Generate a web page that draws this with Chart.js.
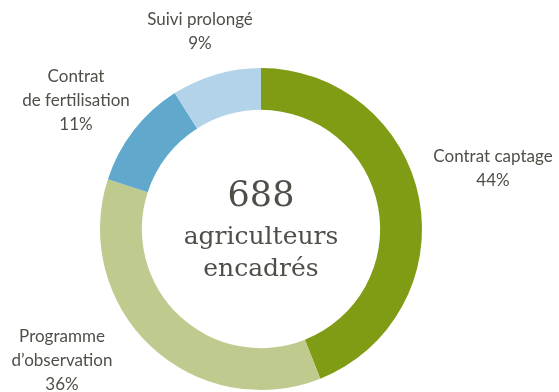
<!DOCTYPE html>
<html>
<head>
<meta charset="utf-8">
<script src="https://cdn.jsdelivr.net/npm/chart.js"></script>
<style>
  html, body { margin: 0; padding: 0; background: #fff; }
  #wrap { width: 559px; height: 392px; }
</style>
</head>
<body>
<div id="wrap"><canvas id="myChart" width="559" height="392"></canvas></div>
<script>
var categories = ['Contrat captage', 'Programme d\u2019observation', 'Contrat de fertilisation', 'Suivi prolongé'];
var labelLines = [['Contrat captage'], ['Programme', 'd\u2019observation'], ['Contrat', 'de fertilisation'], ['Suivi prolongé']];
var values = [44, 36, 11, 9];
var totalFarmers = 688;
var colors = ['#809c14', '#bfcb8e', '#60a9cd', '#b3d4e8'];

// position du texte de chaque étiquette (centre de la première ligne)
var labelPos = [[493, 157], [62, 337], [76, 77], [200, 20]];

var textColor = '#4f4f49';

var labelsPlugin = {
    id: 'outerLabels',
    afterDraw: function (chart) {
        var ctx = chart.ctx;
        ctx.save();
        ctx.fillStyle = textColor;
        ctx.textAlign = 'center';
        ctx.textBaseline = 'middle';
        ctx.font = '17px Lato';
        for (var i = 0; i < values.length; i++) {
            var lines = labelLines[i].concat([values[i] + '%']);
            for (var j = 0; j < lines.length; j++) {
                ctx.fillText(lines[j], labelPos[i][0], labelPos[i][1] + j * 24);
            }
        }
        // texte central
        var arc = chart.getDatasetMeta(0).data[0];
        var cx = arc.x, cy = arc.y;
        ctx.font = '35px "DejaVu Serif"';
        ctx.fillText(String(totalFarmers), cx, cy - 32);
        ctx.font = '25px "DejaVu Serif"';
        ctx.fillText('agriculteurs', cx, cy + 8);
        ctx.fillText('encadrés', cx, cy + 40);
        ctx.restore();
    }
};

var ctx = document.getElementById('myChart').getContext('2d');
var myChart = new Chart(ctx, {
    type: 'doughnut',
    data: {
        labels: categories,
        datasets: [{
            data: values,
            backgroundColor: colors,
            borderWidth: 0
        }]
    },
    options: {
        responsive: false,
        animation: false,
        cutout: '74%',
        layout: {
            padding: { left: 100, right: 137, top: 68, bottom: 2 }
        },
        plugins: {
            legend: { display: false },
            tooltip: { enabled: false }
        }
    },
    plugins: [labelsPlugin]
});
</script>
</body>
</html>
